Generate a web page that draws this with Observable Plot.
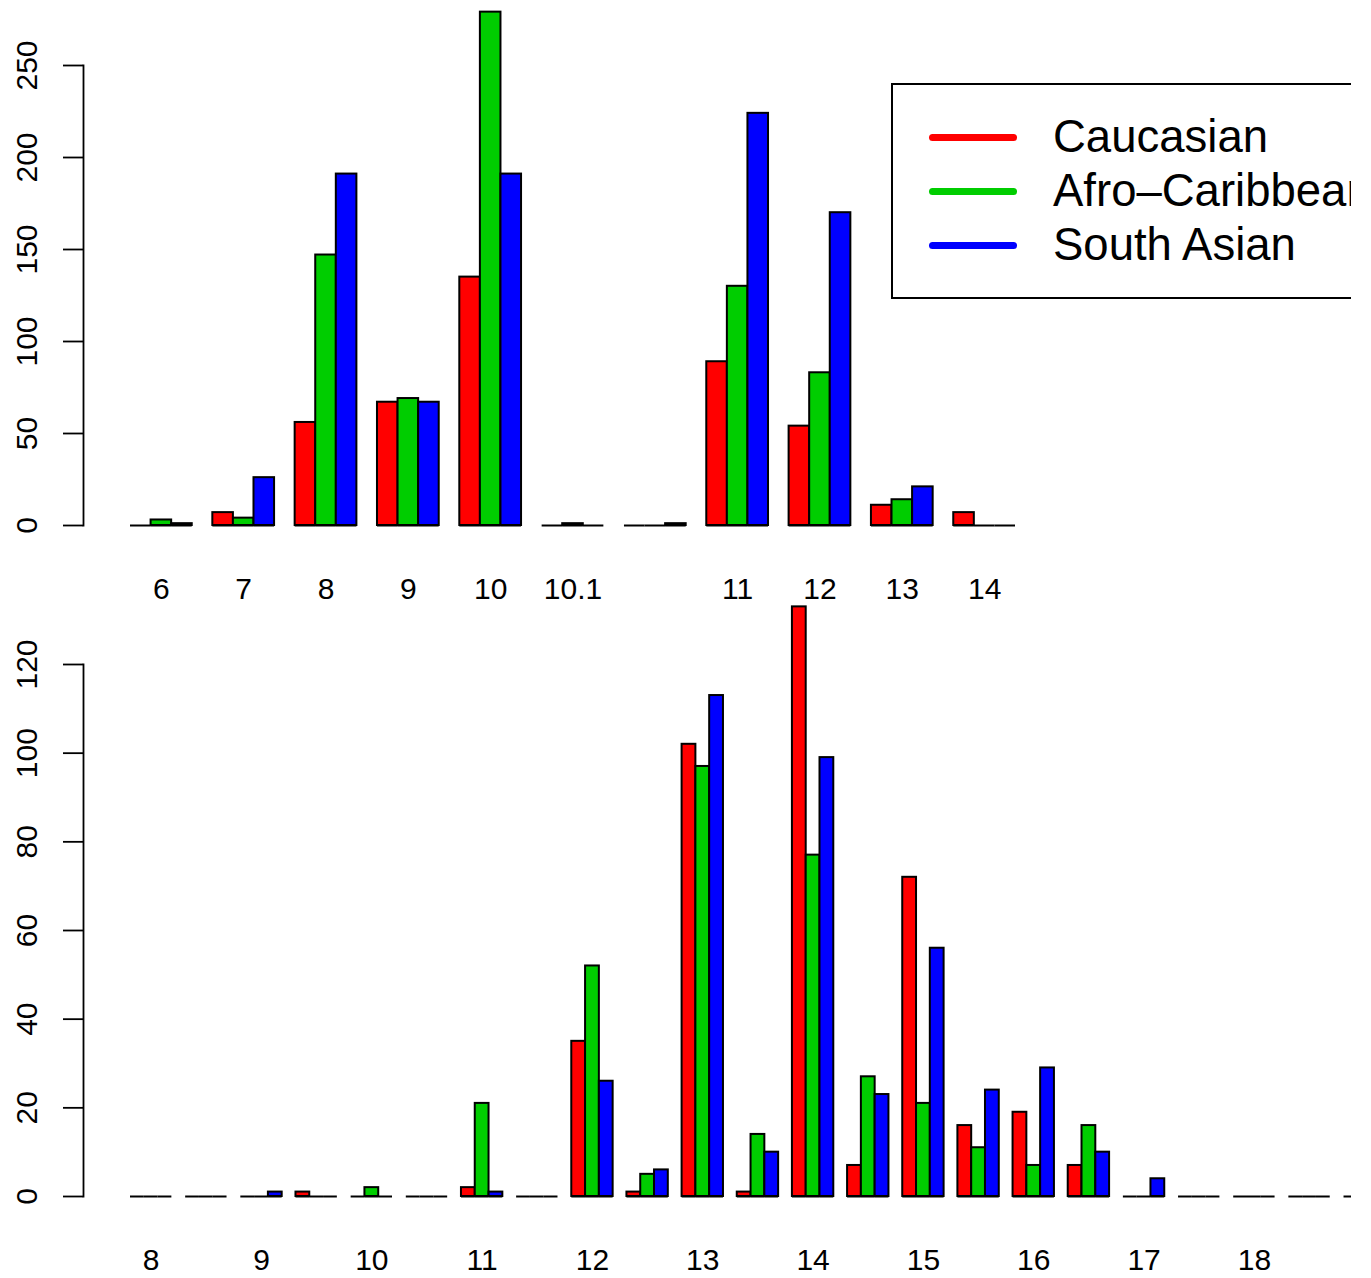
<!DOCTYPE html>
<html>
<head>
<meta charset="utf-8">
<script src="https://cdn.jsdelivr.net/npm/d3@7"></script>
<script src="https://cdn.jsdelivr.net/npm/@observablehq/plot@0.6"></script>
<style>
  html, body { margin: 0; padding: 0; background: white; }
  #wrap { position: relative; width: 1351px; height: 1278px; overflow: hidden; background: white;
          font-family: "Liberation Sans", Arial, Helvetica, sans-serif; }
  #wrap svg { display: block; overflow: visible; background: transparent; }
  #legend { position: absolute; left: 891px; top: 83px; width: 600px; height: 216px;
            border: 2px solid black; box-sizing: border-box; background: white; }
  .item { position: absolute; left: 0; height: 54px; width: 600px; }
  .swatch { position: absolute; left: 36px; top: 23.5px; width: 88px; height: 7px; border-radius: 4px; }
  .label { position: absolute; left: 160px; top: 0; font-size: 45.5px; line-height: 54px; color: black; white-space: nowrap; }
</style>
</head>
<body>
<div id="wrap">
  <div id="top"></div>
  <div id="bottom"></div>
  <div id="legend"></div>
</div>
<script>
// ---- Data ----
const seriesNames = ["Caucasian", "Afro\u2013Caribbean", "South Asian"];
const seriesColors = ["#FF0000", "#00CD00", "#0000FF"];

// Top panel
const topLabels = ["6", "7", "8", "9", "10", "10.1", "", "11", "12", "13", "14"];
const topCaucasian = [0, 7, 56, 67, 135, 0, 0, 89, 54, 11, 7];
const topAfroCaribbean = [3, 4, 147, 69, 279, 1, 0, 130, 83, 14, 0];
const topSouthAsian = [1, 26, 191, 67, 191, 0, 1, 224, 170, 21, 0];
const topYTicks = [0, 50, 100, 150, 200, 250];

// Bottom panel
const bottomLabels = ["8", "", "9", "", "10", "", "11", "", "12", "", "13", "", "14", "", "15", "", "16", "", "17", "", "18", "", ""];
const bottomCaucasian = [0, 0, 0, 1, 0, 0, 2, 0, 35, 1, 102, 1, 133, 7, 72, 16, 19, 7, 0, 0, 0, 0, 0];
const bottomAfroCaribbean = [0, 0, 0, 0, 2, 0, 21, 0, 52, 5, 97, 14, 77, 27, 21, 11, 7, 16, 0, 0, 0, 0, 0];
const bottomSouthAsian = [0, 0, 1, 0, 0, 0, 1, 0, 26, 6, 113, 10, 99, 23, 56, 24, 29, 10, 4, 0, 0, 0, 0];
const bottomYTicks = [0, 20, 40, 60, 80, 100, 120];

// ---- Build ----
function buildRows(labels, seriesArrays) {
  const rows = [];
  labels.forEach((lab, i) => {
    seriesArrays.forEach((arr, s) => {
      rows.push({key: `${i}-${s}`, group: i, series: seriesNames[s], value: arr[i]});
    });
  });
  return rows;
}
function buildSlots(n) {
  const slots = [];
  for (let i = 0; i < n; i++) {
    if (i > 0) slots.push(`${i}-gap`);
    for (let s = 0; s < 3; s++) slots.push(`${i}-${s}`);
  }
  return slots;
}

function panel({labels, series, yTicks, yMax, height, marginTop, marginBottom, xRange}) {
  const rows = buildRows(labels, series);
  const slots = buildSlots(labels.length);
  const tickKeys = labels.map((l, i) => `${i}-1`);
  const labelOf = new Map(labels.map((l, i) => [`${i}-1`, l]));
  return Plot.plot({
    width: 1351,
    height,
    marginLeft: 83,
    marginRight: 0,
    marginTop,
    marginBottom,
    style: {fontFamily: '"Liberation Sans", Arial, Helvetica, sans-serif', background: "transparent", color: "black", overflow: "visible"},
    x: {domain: slots, range: xRange, padding: 0, round: false, axis: null, label: null},
    y: {domain: [0, yMax], axis: null, label: null},
    color: {domain: seriesNames, range: seriesColors},
    marks: [
      Plot.frame({anchor: "left", stroke: "black", strokeWidth: 1.8}),
      Plot.axisY(yTicks, {label: null, tickSize: 20, tickPadding: 27, tickRotate: -90, fontSize: 30, strokeWidth: 1.8, tickFormat: d => String(d)}),
      Plot.axisX(tickKeys, {label: null, tickSize: 0, tickPadding: 52, fontSize: 30, tickFormat: d => labelOf.get(d)}),
      Plot.barY(rows, {x: "key", y: "value", fill: "series", stroke: "black", strokeWidth: 2}),
      Plot.tickY(rows, {x: "key", y: d => 0, stroke: "black", strokeWidth: 2})
    ]
  });
}

const w = 13.79;
document.getElementById("top").append(panel({
  labels: topLabels,
  series: [topCaucasian, topAfroCaribbean, topSouthAsian],
  yTicks: topYTicks, yMax: 250,
  height: 606, marginTop: 65, marginBottom: 81,
  xRange: [130, 1015]
}));
document.getElementById("bottom").append(panel({
  labels: bottomLabels,
  series: [bottomCaucasian, bottomAfroCaribbean, bottomSouthAsian],
  yTicks: bottomYTicks, yMax: 120,
  height: 672, marginTop: 58, marginBottom: 82,
  xRange: [130, 130 + (bottomLabels.length * 4 - 1) * w]
}));

// Legend
const legend = document.getElementById("legend");
seriesNames.forEach((name, i) => {
  const item = document.createElement("div");
  item.className = "item";
  item.style.top = (25 + i * 54) + "px";
  const sw = document.createElement("div");
  sw.className = "swatch";
  sw.style.background = seriesColors[i];
  const lab = document.createElement("div");
  lab.className = "label";
  lab.textContent = name;
  item.append(sw, lab);
  legend.append(item);
});
</script>
</body>
</html>
